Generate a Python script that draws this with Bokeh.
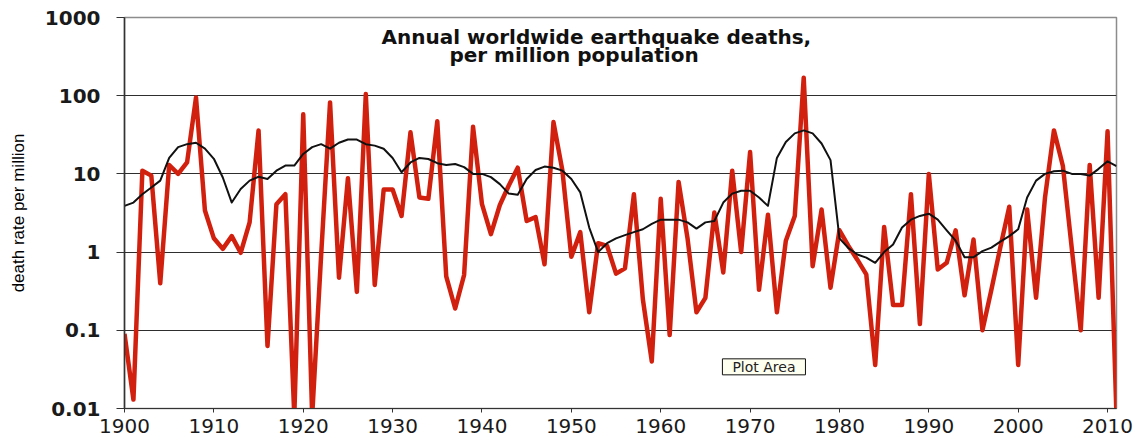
from bokeh.plotting import figure
from bokeh.models import Range1d, FixedTicker, Label
from bokeh.embed import file_html
from bokeh.resources import INLINE

years = list(range(1900, 2012))

annual_deaths_per_million = [
    0.09, 0.013, 11, 9.5, 0.4, 13, 10, 14, 95, 3.4,          # 1900-1909
    1.5, 1.1, 1.6, 0.98, 2.4, 36, 0.063, 4.1, 5.5, 0.008,    # 1910-1919
    58, 0.008, 0.9, 82, 0.47, 8.8, 0.31, 105, 0.38, 6.3,     # 1920-1929
    6.3, 2.9, 34, 5.0, 4.8, 47, 0.49, 0.19, 0.51, 40,        # 1930-1939
    4.1, 1.7, 4.0, 7.1, 12, 2.5, 2.8, 0.7, 46, 11,           # 1940-1949
    0.87, 1.8, 0.17, 1.3, 1.2, 0.53, 0.62, 5.5, 0.25, 0.04,  # 1950-1959
    4.8, 0.087, 7.9, 1.5, 0.17, 0.26, 3.2, 0.55, 11, 1.0,    # 1960-1969
    19, 0.33, 3.0, 0.17, 1.4, 2.9, 170, 0.66, 3.5, 0.35,     # 1970-1979
    1.9, 1.2, 0.8, 0.52, 0.036, 2.1, 0.21, 0.21, 5.5, 0.12,  # 1980-1989
    10, 0.6, 0.73, 1.9, 0.28, 1.45, 0.1, 0.33, 1.15, 3.8,    # 1990-1999
    0.036, 3.5, 0.26, 5.0, 36, 12.6, 1.1, 0.1, 13, 0.26,     # 2000-2009
    35, 0.008,                                                # 2010-2011
]

smoothed_deaths_per_million = [
    3.9, 4.3, 5.5, 6.7, 8.2, 16, 22, 24, 25, 21,             # 1900-1909
    15.6, 9.0, 4.3, 6.4, 8.2, 9.2, 8.6, 11, 12.8, 12.8,      # 1910-1919
    18, 22, 24, 21, 25, 27.5, 27.5, 24, 23, 21,              # 1920-1929
    16, 10.5, 14, 16, 15.5, 13.7, 13, 13.4, 12.2, 10,        # 1930-1939
    10, 9.1, 7.4, 5.6, 5.4, 8.6, 11.2, 12.4, 12, 11,         # 1940-1949
    8.6, 5.8, 2.06, 1.0, 1.3, 1.5, 1.65, 1.8, 1.96, 2.3,     # 1950-1959
    2.6, 2.6, 2.6, 2.4, 2.0, 2.4, 2.5, 4.3, 5.6, 6.1,        # 1960-1969
    6.1, 5.0, 3.9, 16, 25.6, 33, 36, 33, 24.5, 15,           # 1970-1979
    1.5, 1.13, 0.93, 0.85, 0.73, 1.0, 1.25, 2.06, 2.6, 2.9,  # 1980-1989
    3.1, 2.6, 1.9, 1.4, 0.86, 0.86, 1.03, 1.14, 1.36, 1.6,   # 1990-1999
    1.96, 5.0, 8.2, 10, 10.8, 11, 10, 10, 9.5, 11.6,         # 2000-2009
    14.5, 12.6,                                               # 2010-2011
]

x_tick_values = [1900, 1910, 1920, 1930, 1940, 1950, 1960, 1970, 1980, 1990, 2000, 2010]
y_tick_values = [0.01, 0.1, 1, 10, 100, 1000]
y_tick_labels = ["0.01", "0.1", "1", "10", "100", "1000"]

title_line1 = "Annual worldwide earthquake deaths,"
title_line2 = "per million population"
y_label = "death rate per million"

p = figure(
    width=1140, height=442,
    x_range=Range1d(1900, 2011), y_range=Range1d(0.01, 1000),
    y_axis_type="log",
    output_backend="svg", toolbar_location=None,
    min_border_left=124, min_border_right=24,
    min_border_top=17, min_border_bottom=34,
)
p.background_fill_color = "white"
p.border_fill_color = "white"
p.outline_line_color = "#8c8c8c"
p.outline_line_width = 1.5

# axes
yticker = FixedTicker(ticks=y_tick_values)
p.yaxis.ticker = yticker
p.ygrid.ticker = yticker
p.yaxis.major_label_overrides = dict(zip(y_tick_values, y_tick_labels))
p.yaxis.minor_tick_line_color = None
p.yaxis.major_tick_in = 0
p.yaxis.major_tick_out = 8
p.yaxis.major_label_standoff = 16
p.yaxis.major_label_text_font = "DejaVu Sans"
p.yaxis.major_label_text_font_style = "bold"
p.yaxis.major_label_text_font_size = "20px"
p.yaxis.major_label_text_color = "#1a1a1a"
p.yaxis.axis_line_color = "#333333"
p.yaxis.axis_line_width = 1.5
p.yaxis.major_tick_line_color = "#333333"
p.yaxis.axis_label = y_label
p.yaxis.axis_label_text_font = "Liberation Sans"
p.yaxis.axis_label_text_font_style = "normal"
p.yaxis.axis_label_text_font_size = "17px"
p.yaxis.axis_label_text_color = "black"
p.yaxis.axis_label_standoff = 14

p.xaxis.ticker = FixedTicker(ticks=x_tick_values)
p.xaxis.minor_tick_line_color = None
p.xaxis.major_tick_in = 0
p.xaxis.major_tick_out = 4
p.xaxis.major_label_standoff = 6
p.xaxis.major_label_text_font = "DejaVu Sans"
p.xaxis.major_label_text_font_size = "20px"
p.xaxis.major_label_text_color = "#1a1a1a"
p.xaxis.axis_line_color = "#333333"
p.xaxis.major_tick_line_color = "#333333"

p.xgrid.visible = False
p.ygrid.grid_line_color = "#2e2e2e"
p.ygrid.grid_line_width = 1

# series
p.line(years, annual_deaths_per_million, line_color="#d2200f", line_width=4.5,
       line_join="round")
p.line(years, smoothed_deaths_per_million, line_color="#111111", line_width=2,
       line_join="round")

# in-plot title
p.add_layout(Label(x=1952.8, y=555, text=title_line1, text_align="center",
                   text_baseline="alphabetic", text_font="DejaVu Sans",
                   text_font_style="bold", text_font_size="20px", text_color="#111111"))
p.add_layout(Label(x=1950.3, y=331, text=title_line2, text_align="center",
                   text_baseline="alphabetic", text_font="DejaVu Sans",
                   text_font_style="bold", text_font_size="20px", text_color="#111111"))

# "Plot Area" tooltip box
p.add_layout(Label(x=1971.55, y=0.0341, text="Plot Area", text_align="center",
                   text_baseline="middle", text_font="DejaVu Sans",
                   text_font_size="14px", text_color="#222222",
                   background_fill_color="#fffff0", border_line_color="#111111",
                   border_line_width=1,
                   padding=dict(left=10, right=10, top=0, bottom=0)))

open("out.html", "w").write(file_html(p, INLINE))
